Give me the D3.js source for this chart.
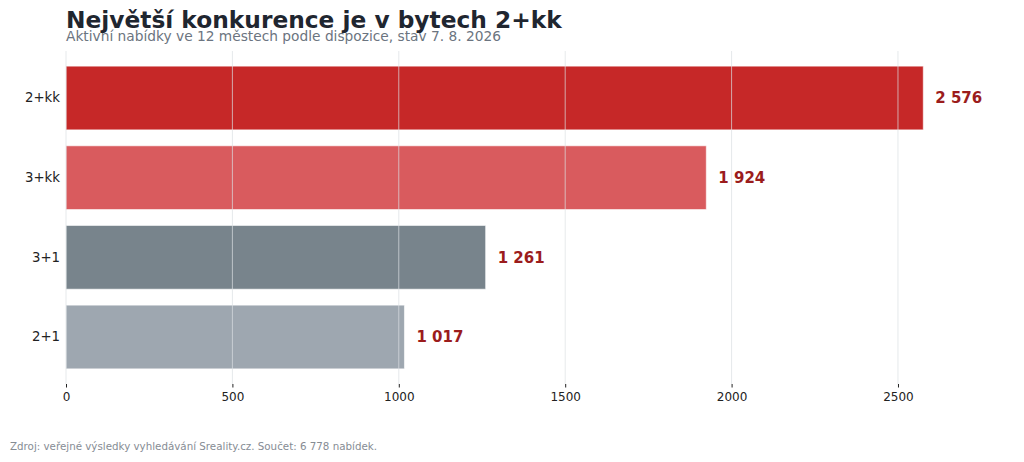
<!DOCTYPE html>
<html>
<head>
<meta charset="utf-8">
<script src="https://cdn.jsdelivr.net/npm/d3@7"></script>
<style>
  body { margin: 0; background: #fff; }
  svg { font-family: "DejaVu Sans", sans-serif; display: block; }
</style>
</head>
<body>
<svg id="chart" width="1024" height="462"></svg>
<script>
// data
const categories = ["2+kk", "3+kk", "3+1", "2+1"];
const counts = [2576, 1924, 1261, 1017];
const barColors = ["#c62828", "#d95b5e", "#78848c", "#9ea7b0"];
const xTicks = [0, 500, 1000, 1500, 2000, 2500];

const width = 1024, height = 462;
const margin = { top: 51, right: 15, bottom: 78, left: 66 };

const svg = d3.select("#chart");

const x = d3.scaleLinear()
    .domain([0, 2576 * 1.1])
    .range([margin.left, width - margin.right]);

const y = d3.scaleBand()
    .domain(categories)
    .range([margin.top, height - margin.bottom])
    .paddingInner(0.2)
    .paddingOuter(0.19);

// bars
svg.append("g")
    .selectAll("rect")
    .data(categories)
    .join("rect")
    .attr("x", x(0))
    .attr("y", d => y(d))
    .attr("width", (d, i) => x(counts[i]) - x(0))
    .attr("height", y.bandwidth())
    .attr("fill", (d, i) => barColors[i])
    .attr("stroke", "#ffffff")
    .attr("stroke-opacity", 0.6)
    .attr("stroke-width", 1);

// grid on top of bars, semi transparent
svg.append("g")
    .selectAll("line")
    .data(xTicks)
    .join("line")
    .attr("x1", d => x(d))
    .attr("x2", d => x(d))
    .attr("y1", margin.top)
    .attr("y2", height - margin.bottom)
    .attr("stroke", "#dcdfe3")
    .attr("stroke-opacity", 0.7)
    .attr("stroke-width", 1);

// x axis
const xAxis = svg.append("g")
    .attr("transform", `translate(0,${height - margin.bottom})`)
    .call(d3.axisBottom(x).tickValues(xTicks).tickFormat(d3.format("d")).tickSize(3.5).tickPadding(5));
xAxis.select(".domain").remove();
xAxis.selectAll("line").attr("stroke", "#222");
xAxis.selectAll("text").attr("font-size", 12).attr("fill", "#222")
    .attr("font-family", "DejaVu Sans");

// y labels
const yAxis = svg.append("g")
    .attr("transform", `translate(${margin.left},0)`)
    .call(d3.axisLeft(y).tickSize(0).tickPadding(6));
yAxis.select(".domain").remove();
yAxis.selectAll("text").attr("font-size", 13.3).attr("fill", "#222")
    .attr("font-family", "DejaVu Sans");

// value labels
svg.append("g")
    .selectAll("text")
    .data(categories)
    .join("text")
    .attr("x", (d, i) => x(counts[i]) + 12)
    .attr("y", d => y(d) + y.bandwidth() / 2)
    .attr("dy", "0.36em")
    .attr("font-size", 15)
    .attr("font-weight", "bold")
    .attr("fill", "#9b1c1c")
    .text((d, i) => d3.format(",")(counts[i]).replace(/,/g, " "));

// titles
svg.append("text")
    .attr("x", 66).attr("y", 28)
    .attr("font-size", 23.3)
    .attr("font-weight", "bold")
    .attr("fill", "#1f2630")
    .text("Největší konkurence je v bytech 2+kk");

svg.append("text")
    .attr("x", 66).attr("y", 41)
    .attr("font-size", 13.75)
    .attr("fill", "#6b7480")
    .text("Aktivní nabídky ve 12 městech podle dispozice, stav 7. 8. 2026");

svg.append("text")
    .attr("x", 10).attr("y", 450)
    .attr("font-size", 10.3)
    .attr("fill", "#868c94")
    .text("Zdroj: veřejné výsledky vyhledávání Sreality.cz. Součet: 6 778 nabídek.");
</script>
</body>
</html>
